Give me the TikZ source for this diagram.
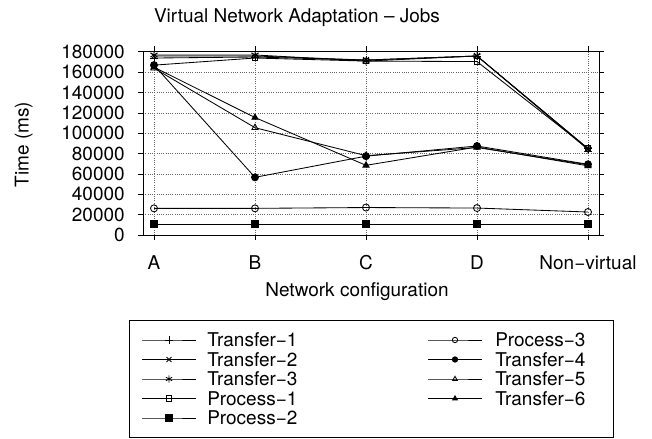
\documentclass[tikz,border=0pt]{standalone}
\usepackage{fontspec}
\setmainfont{TeX Gyre Heros}
\usetikzlibrary{plotmarks}

\begin{document}
\begin{tikzpicture}[x=0.025cm,y=-0.025cm,
    every node/.style={font=\fontsize{13.5}{16}\selectfont, inner sep=0pt},
    series/.style={line width=0.6pt, mark size=2.5pt, mark options={solid, line width=0.6pt}},
    keyline/.style={series, mark size=1.9pt, mark indices={2}},
    gridline/.style={black!60, line width=0.5pt, dash pattern=on 0.7pt off 0.9pt}]
    \useasboundingbox (0,0) rectangle (652,439);

    \node (title) [anchor=base] at (297,23) {Virtual Network Adaptation – Jobs};
    \node (ylabel) [anchor=base, rotate=90] at (28.5,144.5) {Time (ms)};
    \node (xlabel) [anchor=base] at (357,297) {Network configuration};

    \begin{scope}[shift={(0,235)}, y=0.0254167cm]
        % grid
        \foreach \v in {20,40,...,160} \draw[gridline] (143,\v) -- (599,\v);
        \foreach \x in {154,255,366,477,588} \draw[gridline] (\x,0) -- (\x,180);
        % ticks
        \foreach \v/\t in {0/0,20/20000,40/40000,60/60000,80/80000,100/100000,120/120000,140/140000,160/160000,180/180000} {
            \draw[line width=0.6pt] (138,\v) -- (143,\v) (599,\v) -- (604,\v);
            \node (y\v) [anchor=east] at (125,\v) {\t};
        }
        \foreach \x/\c [count=\i] in {154/A,255/B,366/C,477/D,588/Non−virtual} {
            \draw[line width=0.6pt] (\x,0) -- ++(0,-0.125cm) (\x,180) -- ++(0,0.15cm);
            \node (x\i) at (\x,-27) {\c};
        }
        \draw[line width=0.7pt] (143,0) rectangle (599,180);   % frame

        % data
        \draw[series, mark=square, mark size=2pt] plot coordinates {(154,167) (255,174) (366,171) (477,170.5) (588,85)}; %Process-1
        \draw[series, mark=+, mark size=3pt] plot coordinates {(154,174) (255,175) (366,172) (477,176) (588,85)};          %Transfer-1
        \draw[series, mark=x, mark size=3pt] plot coordinates {(154,176) (255,176) (366,172) (477,176) (588,85)};          %Transfer-2
        \draw[series, mark=asterisk, mark size=3pt] plot coordinates {(154,177) (255,177) (366,171) (477,176) (588,84)};   %Transfer-3
        \draw[series, mark=square*] plot coordinates {(154,10.5) (255,10.5) (366,10.5) (477,10.5) (588,10.5)}; %Process-2
        \draw[series, mark=o] plot coordinates {(154,26.2) (255,26.2) (366,27) (477,26.5) (588,22.6)};      %Process-3
        \draw[series, mark=*] plot coordinates {(154,167) (255,56.7) (366,77.5) (477,87.5) (588,69.5)};     %Transfer-4
        \draw[series, mark=triangle] plot coordinates {(154,164) (255,105.5) (366,78) (477,86) (588,69)};   %Transfer-5
        \draw[series, mark=triangle*] plot coordinates {(154,165) (255,115.5) (366,68.5) (477,86.5) (588,68)}; %Transfer-6
    \end{scope}

    % key
    \draw[line width=0.6pt] (129,320) rectangle (613,437);
    \foreach \mk/\ms/\txt [count=\k] in {+/2.5pt/Transfer−1, x/2.5pt/Transfer−2, asterisk/2.5pt/Transfer−3, square/1.9pt/Process−1, square*/2.2pt/Process−2} {
        \draw[keyline, mark=\mk, mark size=\ms] plot coordinates {(142,{320.5+19.5*\k}) (169,{320.5+19.5*\k}) (196,{320.5+19.5*\k})};
        \node (keyl\k) [anchor=west] at (207,{320.5+19.5*\k}) {\txt};
    }
    \foreach \mk/\txt [count=\k] in {o/Process−3, */Transfer−4, triangle/Transfer−5, triangle*/Transfer−6} {
        \draw[keyline, mark=\mk] plot coordinates {(428,{320.5+19.5*\k}) (455,{320.5+19.5*\k}) (482,{320.5+19.5*\k})};
        \node (keyr\k) [anchor=west] at (495,{320.5+19.5*\k}) {\txt};
    }
\end{tikzpicture}
\end{document}
